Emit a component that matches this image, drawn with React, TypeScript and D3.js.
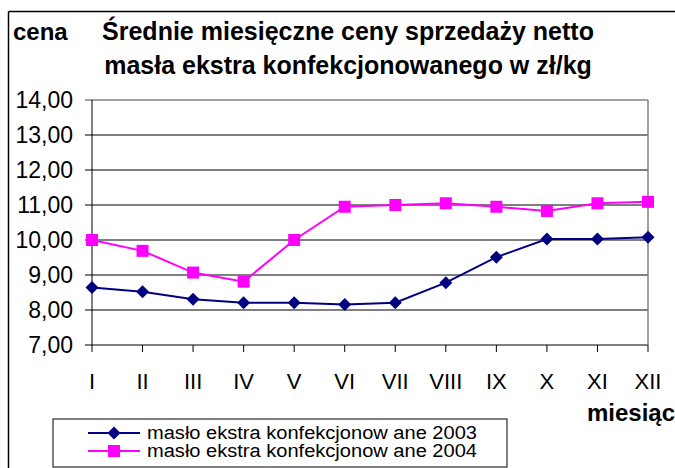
import React from 'react';
import * as d3 from 'd3';

const months = ['I', 'II', 'III', 'IV', 'V', 'VI', 'VII', 'VIII', 'IX', 'X', 'XI', 'XII'];
const prices2003 = [8.64, 8.52, 8.31, 8.21, 8.21, 8.16, 8.21, 8.78, 9.51, 10.03, 10.03, 10.08];
const prices2004 = [10.0, 9.69, 9.07, 8.81, 10.0, 10.95, 11.0, 11.05, 10.95, 10.83, 11.05, 11.09];
const yTicks = [7, 8, 9, 10, 11, 12, 13, 14];
const seriesNames = ['masło ekstra konfekcjonow ane 2003', 'masło ekstra konfekcjonow ane 2004'];

const W = 675;
const H = 468;
const plot = { left: 92, right: 648, top: 100, bottom: 345 };
const font = 'Arial, "Liberation Sans", sans-serif';

const App = () => {
  const x = d3.scalePoint<string>().domain(months).range([plot.left, plot.right]);
  const y = d3.scaleLinear().domain([7, 14]).range([plot.bottom, plot.top]);
  const fmt = (v: number) => v.toFixed(2).replace('.', ',');

  const line = d3
    .line<number>()
    .x((_, i) => x(months[i]) as number)
    .y((d) => y(d));

  const diamond = (cx: number, cy: number, r: number) =>
    `M${cx},${cy - r}L${cx + r},${cy}L${cx},${cy + r}L${cx - r},${cy}Z`;

  const series = [
    { name: seriesNames[0], values: prices2003, color: '#000080', shape: 'diamond' },
    { name: seriesNames[1], values: prices2004, color: '#FF00FF', shape: 'square' },
  ];

  const marker = (shape: string, cx: number, cy: number, color: string, key?: number) =>
    shape === 'diamond' ? (
      <path key={key} d={diamond(cx, cy, 6.5)} fill={color} />
    ) : (
      <rect key={key} x={cx - 6} y={cy - 6} width={12} height={12} fill={color} />
    );

  return (
    <svg
      width={W}
      height={H}
      style={{ position: 'absolute', left: 0, top: 0, background: '#fff' }}
      fontFamily={font}
    >
      {/* frame of the original sheet, only left and top edges visible */}
      <line x1={8.5} y1={11.5} x2={W} y2={11.5} stroke="#000" strokeWidth={1.5} />
      <line x1={8.5} y1={11.5} x2={8.5} y2={H} stroke="#000" strokeWidth={1.5} />

      <text x={13} y={40} fontSize={24} fontWeight="bold">cena</text>
      <text x={348} y={40} fontSize={25} fontWeight="bold" textAnchor="middle">
        Średnie miesięczne ceny sprzedaży netto
      </text>
      <text x={348} y={74} fontSize={25} fontWeight="bold" textAnchor="middle">
        masła ekstra konfekcjonowanego w zł/kg
      </text>

      {/* grid */}
      {yTicks.map((t) => (
        <g key={t}>
          <line
            x1={plot.left - 7}
            x2={plot.right}
            y1={y(t)}
            y2={y(t)}
            stroke={t === 14 ? '#808080' : '#000'}
            strokeWidth={t === 14 ? 1.5 : 1}
          />
          <text x={73} y={y(t) + 8} fontSize={23} textAnchor="end">
            {fmt(t)}
          </text>
        </g>
      ))}
      <line x1={plot.right} x2={plot.right} y1={plot.top} y2={plot.bottom} stroke="#808080" strokeWidth={1.5} />
      <line x1={plot.left} x2={plot.left} y1={plot.top} y2={plot.bottom} stroke="#000" strokeWidth={1} />

      {months.map((m) => (
        <g key={m}>
          <line x1={x(m)} x2={x(m)} y1={plot.bottom} y2={plot.bottom + 7} stroke="#000" />
          <text x={x(m)} y={389} fontSize={22} textAnchor="middle">
            {m}
          </text>
        </g>
      ))}

      <text x={675} y={421} fontSize={24} fontWeight="bold" textAnchor="end">miesiąc</text>

      {series.map((s) => (
        <g key={s.name}>
          <path d={line(s.values) ?? ''} fill="none" stroke={s.color} strokeWidth={2} />
          {s.values.map((v, i) => marker(s.shape, x(months[i]) as number, y(v), s.color, i))}
        </g>
      ))}

      {/* legend */}
      <rect x={53} y={419} width={454} height={48} fill="#fff" stroke="#000" strokeWidth={1} />
      {series.map((s, i) => {
        const cy = 433 + i * 18;
        return (
          <g key={s.name}>
            <line x1={88} x2={140} y1={cy} y2={cy} stroke={s.color} strokeWidth={2} />
            {marker(s.shape, 114, cy, s.color)}
            <text x={147} y={cy + 6} fontSize={18} textLength={330} lengthAdjust="spacingAndGlyphs">
              {s.name}
            </text>
          </g>
        );
      })}
    </svg>
  );
};

export default App;
